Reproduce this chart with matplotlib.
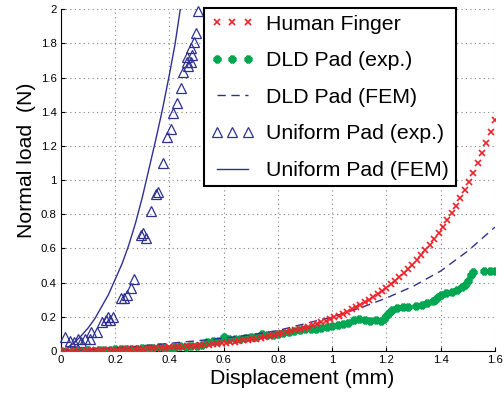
import numpy as np
import matplotlib.pyplot as plt
from matplotlib.ticker import FuncFormatter

plt.rcParams['font.family'] = ['Liberation Sans', 'DejaVu Sans']

# human fingertip, loading curve
finger_disp = [0.000, 0.016, 0.032, 0.048, 0.064, 0.080, 0.096, 0.112, 0.128, 0.144,
               0.160, 0.176, 0.192, 0.208, 0.224, 0.240, 0.256, 0.272, 0.288, 0.304,
               0.320, 0.336, 0.352, 0.368, 0.384, 0.400, 0.416, 0.432, 0.448, 0.464,
               0.480, 0.496, 0.512, 0.528, 0.544, 0.560, 0.576, 0.592, 0.608, 0.624,
               0.640, 0.656, 0.672, 0.688, 0.704, 0.720, 0.736, 0.752, 0.768, 0.784,
               0.800, 0.816, 0.832, 0.848, 0.864, 0.880, 0.896, 0.912, 0.928, 0.944,
               0.960, 0.976, 0.992, 1.008, 1.024, 1.040, 1.056, 1.072, 1.088, 1.104,
               1.120, 1.136, 1.152, 1.168, 1.184, 1.200, 1.216, 1.232, 1.248, 1.264,
               1.280, 1.296, 1.312, 1.328, 1.344, 1.360, 1.376, 1.392, 1.408, 1.424,
               1.440, 1.456, 1.472, 1.488, 1.504, 1.520, 1.536, 1.552, 1.568, 1.584,
               1.600]
finger_load = [0.000, 0.001, 0.001, 0.002, 0.002, 0.003, 0.003, 0.004, 0.004, 0.005,
               0.006, 0.006, 0.007, 0.008, 0.009, 0.010, 0.010, 0.011, 0.012, 0.014,
               0.015, 0.016, 0.017, 0.018, 0.020, 0.021, 0.023, 0.024, 0.026, 0.028,
               0.030, 0.032, 0.034, 0.036, 0.038, 0.041, 0.043, 0.046, 0.049, 0.052,
               0.055, 0.058, 0.062, 0.066, 0.069, 0.073, 0.078, 0.082, 0.087, 0.092,
               0.097, 0.103, 0.109, 0.115, 0.121, 0.128, 0.135, 0.142, 0.150, 0.159,
               0.167, 0.177, 0.186, 0.197, 0.207, 0.219, 0.230, 0.243, 0.256, 0.270,
               0.285, 0.300, 0.316, 0.333, 0.351, 0.370, 0.390, 0.411, 0.433, 0.456,
               0.480, 0.506, 0.533, 0.561, 0.591, 0.622, 0.656, 0.690, 0.727, 0.766,
               0.806, 0.849, 0.894, 0.941, 0.991, 1.044, 1.099, 1.157, 1.218, 1.283,
               1.350]

# DLD pad, measured
dld_exp_disp = [0.00, 0.02, 0.04, 0.06, 0.08, 0.10, 0.12, 0.14, 0.16, 0.18,
                0.20, 0.22, 0.24, 0.26, 0.28, 0.30, 0.32, 0.34, 0.36, 0.38,
                0.40, 0.41, 0.42, 0.44, 0.46, 0.48, 0.50, 0.52, 0.54, 0.56,
                0.58, 0.60, 0.62, 0.64, 0.66, 0.68, 0.70, 0.72, 0.74, 0.76,
                0.78, 0.80, 0.82, 0.84, 0.86, 0.88, 0.90, 0.92, 0.94, 0.96,
                0.98, 1.00, 1.02, 1.04, 1.06, 1.08, 1.10, 1.12, 1.14, 1.16,
                1.18, 1.19, 1.20, 1.21, 1.22, 1.24, 1.26, 1.28, 1.31, 1.33,
                1.35, 1.37, 1.38, 1.39, 1.40, 1.42, 1.44, 1.46, 1.48, 1.49,
                1.50, 1.51, 1.52, 1.56, 1.58, 1.60]
dld_exp_load = [0.000, 0.002, 0.002, 0.003, 0.002, 0.004, 0.003, 0.005, 0.006, 0.004,
                0.010, 0.012, 0.010, 0.013, 0.012, 0.016, 0.020, 0.018, 0.022, 0.020,
                0.010, 0.002, 0.022, 0.028, 0.026, 0.030, 0.032, 0.036, 0.050, 0.060,
                0.058, 0.080, 0.072, 0.068, 0.072, 0.078, 0.080, 0.085, 0.100, 0.095,
                0.092, 0.098, 0.108, 0.112, 0.118, 0.125, 0.128, 0.126, 0.130, 0.135,
                0.140, 0.145, 0.150, 0.158, 0.165, 0.180, 0.185, 0.182, 0.178, 0.180,
                0.175, 0.185, 0.205, 0.225, 0.240, 0.250, 0.255, 0.258, 0.262, 0.270,
                0.280, 0.292, 0.300, 0.318, 0.325, 0.338, 0.345, 0.355, 0.372, 0.385,
                0.410, 0.445, 0.462, 0.468, 0.470, 0.468]

# DLD pad, FEM
dld_fem_disp = [0.0, 0.1, 0.2, 0.3, 0.4, 0.5, 0.6, 0.7, 0.8, 0.9,
                1.0, 1.1, 1.2, 1.3, 1.4, 1.5, 1.6]
dld_fem_load = [0.0, 0.008, 0.018, 0.030, 0.045, 0.060, 0.075, 0.095, 0.120, 0.160,
                0.200, 0.250, 0.310, 0.380, 0.468, 0.585, 0.725]

# uniform pad, measured
uni_exp_disp = [0.015, 0.033, 0.048, 0.063, 0.074, 0.089, 0.107, 0.111, 0.133, 0.151,
                0.166, 0.173, 0.181, 0.192, 0.221, 0.232, 0.244, 0.258, 0.269, 0.295,
                0.303, 0.314, 0.332, 0.350, 0.358, 0.376, 0.391, 0.406, 0.413, 0.428,
                0.443, 0.450, 0.469, 0.465, 0.480, 0.465, 0.483, 0.480, 0.491, 0.498,
                0.505]
uni_exp_load = [0.08, 0.06, 0.05, 0.07, 0.05, 0.07, 0.07, 0.11, 0.11, 0.17,
                0.18, 0.20, 0.18, 0.20, 0.31, 0.31, 0.33, 0.37, 0.42, 0.68,
                0.69, 0.66, 0.82, 0.92, 0.93, 1.10, 1.25, 1.30, 1.39, 1.45,
                1.54, 1.63, 1.67, 1.69, 1.69, 1.72, 1.73, 1.77, 1.81, 1.86,
                1.99]

# uniform pad, FEM
uni_fem_disp = [0.0, 0.025, 0.05, 0.075, 0.1, 0.125, 0.15, 0.175, 0.2, 0.225,
                0.25, 0.275, 0.3, 0.325, 0.35, 0.375, 0.4, 0.42, 0.44, 0.47]
uni_fem_load = [0.0, 0.02, 0.05, 0.09, 0.135, 0.19, 0.26, 0.33, 0.42, 0.51,
                0.62, 0.75, 0.90, 1.07, 1.24, 1.42, 1.62, 1.79, 2.0, 2.3]

red = '#ee2229'
green = '#00a651'
blue = '#2e3192'

fig = plt.figure(figsize=(5.04, 3.98), dpi=100)
ax = fig.add_axes([0.121, 0.118, 0.861, 0.859])

ax.plot(finger_disp, finger_load, ls='none', marker='x', ms=5, mew=1.2,
        color=red, label='Human Finger', zorder=6)
ax.plot(dld_exp_disp, dld_exp_load, ls='none', marker=(8, 2, 0), ms=5.5, mew=2.4,
        color=green, label='DLD Pad (exp.)', zorder=4)
ax.plot(dld_fem_disp, dld_fem_load, ls=(0, (6, 4)), lw=1.0,
        color=blue, label='DLD Pad (FEM)', zorder=5)
ax.plot(uni_exp_disp, uni_exp_load, ls='none', marker='^', ms=7.5, mew=0.9,
        mfc='none', mec=blue, label='Uniform Pad (exp.)', zorder=3, clip_on=False)
ax.plot(uni_fem_disp, uni_fem_load, ls='-', lw=1.0,
        color=blue, label='Uniform Pad (FEM)', zorder=3)

ax.set_xlim(0, 1.6)
ax.set_ylim(0, 2)
ax.set_xticks(np.arange(0, 1.61, 0.2))
ax.set_yticks(np.arange(0, 2.01, 0.2))
fmt = FuncFormatter(lambda v, p: '%g' % round(v, 2))
ax.xaxis.set_major_formatter(fmt)
ax.yaxis.set_major_formatter(fmt)
ax.tick_params(direction='in', length=3, width=0.8, labelsize=8.2, pad=3)

ax.grid(True, ls=(0, (1, 3)), color='0.5', lw=0.8)
ax.spines['top'].set_visible(False)
ax.spines['right'].set_visible(False)
ax.spines['left'].set_linewidth(0.8)
ax.spines['bottom'].set_linewidth(0.8)

ax.set_xlabel('Displacement (mm)', fontsize=15.3)
ax.set_ylabel('Normal load  (N)', fontsize=15.3)
ax.xaxis.set_label_coords(0.556, -0.052)
ax.yaxis.set_label_coords(-0.058, 0.558)

leg = ax.legend(loc='upper left', bbox_to_anchor=(0.329, 1.003), borderaxespad=0,
                fontsize=15.3, numpoints=3, handlelength=2.1, handletextpad=0.55,
                labelspacing=0.83, borderpad=0.3, fancybox=False, framealpha=1,
                edgecolor='black')
leg.get_frame().set_linewidth(1.5)

fig.savefig('out.png', dpi=100)
